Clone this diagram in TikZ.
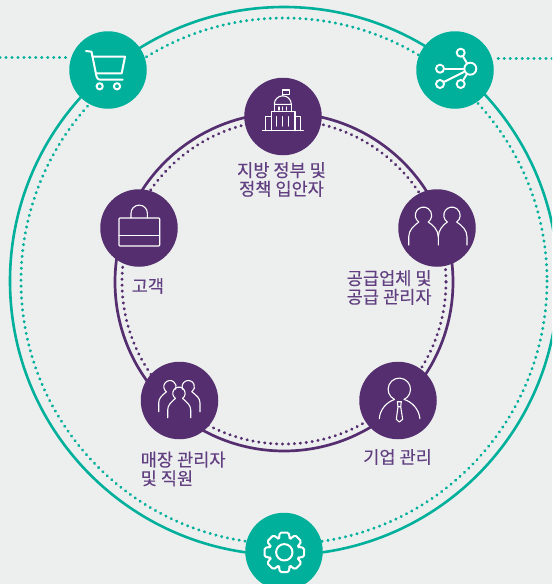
\documentclass[tikz,border=0pt]{standalone}
\usepackage{fontspec}
\newfontfamily\krfont[FakeBold=0.2]{Noto Sans CJK KR}
\definecolor{bgc}{HTML}{EDEFEF}
\definecolor{tealc}{HTML}{00B09B}
\definecolor{purc}{HTML}{552E6F}
\definecolor{labc}{HTML}{613F80}
\tikzset{
  hubteal/.style={circle,fill=tealc,inner sep=0pt,minimum size=77.5pt},
  hubpur/.style={circle,fill=purc,inner sep=0pt,minimum size=77.5pt},
  ringteal/.style={draw=tealc,line width=2.6pt},
  ringpur/.style={draw=purc,line width=2.7pt},
  dotsteal/.style={draw=tealc,line width=3.1pt,line cap=round,dash pattern=on 0.2pt off 5.75pt},
  dotspur/.style={draw=purc,line width=3.1pt,line cap=round,dash pattern=on 0.2pt off 5.75pt},
  iconthick/.style={draw=white,line width=2pt,line cap=round,line join=round},
  iconthin/.style={draw=white,line width=1.1pt,line cap=round,line join=round},
  netdot/.style={circle,draw=white,line width=1.9pt,fill=none,inner sep=0pt,minimum size=#1},
  lab/.style={text=labc,inner sep=0pt,font=\krfont\fontsize{17.6}{18.6}\selectfont},
}
\begin{document}
\begin{tikzpicture}[x=1pt,y=1pt,yscale=-1]
\useasboundingbox (0,0) rectangle (552,584);
\clip (0,0) rectangle (552,584);
\fill[bgc] (0,0) rectangle (552,584);
\coordinate (ctr) at (284,281);
\coordinate (ctrb) at (284,282);
\coordinate (leftend) at (0,57.2);
\coordinate (rightend) at (552,58.7);
% rings
\draw[ringteal] (ctr) circle[radius=274];
\draw[dotsteal] (ctr) circle[radius=263];
\draw[ringpur] (ctrb) circle[radius=169];
\draw[dotspur] (ctrb) circle[radius=162];
% hubs
\node[hubteal] (cart) at (108,70) {};
\node[hubteal] (net) at (455,70) {};
\node[hubteal] (gear) at (284,551.5) {};
\node[hubpur] (gov) at (283,116.5) {};
\node[hubpur] (bag) at (139,228) {};
\node[hubpur] (two) at (437,228) {};
\node[hubpur] (store) at (179.5,400.5) {};
\node[hubpur] (exec) at (398,400.5) {};
% outer dotted connectors
\draw[dotsteal] (leftend) -- (69,57.2);
\draw[dotsteal] (rightend) -- (494,58.7);
% cart
\draw[iconthick] (86,51) -- (91.5,51.7) -- (96,74) .. controls (96.7,78) and (97.5,79.7) .. (101,79.7) -- (122.7,79.7);
\draw[iconthick] (92.7,56.7) -- (125,56.7) -- (121.7,73.3) -- (96,73.3);
\draw[iconthick] (99.7,86.3) circle[radius=3.1];
\draw[iconthick] (117,86.3) circle[radius=3.1];
% network
\node[netdot=12pt] (hub) at (470.3,68.7) {};
\node[netdot=8pt] (n1) at (460.7,52.7) {};
\node[netdot=8pt] (n2) at (440,68.7) {};
\node[netdot=8pt] (n3) at (440,84) {};
\node[netdot=8pt] (n4) at (460.7,84) {};
\draw[iconthick] (hub) -- (n1);
\draw[iconthick] (hub) -- (n2);
\draw[iconthick] (hub) -- (n3);
\draw[iconthick] (hub) -- (n4);
% gear
\begin{scope}[shift={(284.3,552.3)}]
\draw[iconthick] (0,0) circle[radius=8.2];
\draw[iconthick,rounded corners=1.6pt] (-20:15.2) \foreach \a in {0,45,...,315} { -- (\a-20:15.2) -- (\a-13:20.3) -- (\a+13:20.3) -- (\a+20:15.2) } -- cycle;
\end{scope}
% government
\draw[iconthin] (262.3,130.7) -- (303.3,130.7);
\draw[iconthin] (271.3,130.7) -- (271.3,111.7) -- (295,111.7) -- (295,130.7);
\draw[iconthin] (271.3,116.3) -- (265.3,116.3) -- (265.3,130.7);
\draw[iconthin] (295,116.3) -- (300.7,116.3) -- (300.7,130.7);
\foreach \x in {276.7,282.7,288.7} \draw[iconthin] (\x,116.7) -- (\x,126);
\draw[iconthin] (274.3,104.3) arc[start angle=180,end angle=360,radius=8.5] -- cycle;
\draw[iconthin] (274.3,104.3) -- (274.3,111.7);
\draw[iconthin] (291.3,104.3) -- (291.3,111.7);
\foreach \x in {279,282.8,286.6} \draw[iconthin] (\x,107) -- (\x,110);
\draw[iconthin] (282.8,95.8) -- (282.8,90) -- (289.3,90) -- (289.3,94.3) -- (282.8,94.3);
% bag
\draw[iconthin,rounded corners=0.8pt] (119,218) rectangle (159.7,246);
\draw[iconthin] (119,235.7) -- (159.7,235.7);
\draw[iconthin] (131,218) -- (131,213.3) arc[start angle=180,end angle=360,radius=8.2] -- (147.4,218);
% two people
\draw[iconthin] (423.5,215.3) ++(125:8.2) arc[start angle=125,end angle=415,radius=8.2];
\draw[iconthin] (452,215.3) ++(125:8.2) arc[start angle=125,end angle=415,radius=8.2];
\draw[iconthin] (408.7,245) -- (408.7,237) .. controls (408.7,230) and (414,225.5) .. (418.8,222);
\draw[iconthin] (428.2,222) .. controls (433,225) and (438.3,230) .. (438.3,237) -- (438.3,245);
\draw[iconthin] (438.3,237) .. controls (438.3,230) and (443,225) .. (447.3,222);
\draw[iconthin] (456.7,222) .. controls (462,225.5) and (467,230) .. (467,237) -- (467,245);
% store staff
\draw[iconthin] (179,393.3) ++(125:6.2) arc[start angle=125,end angle=415,radius=6.2];
\draw[iconthin] (167.7,417.7) -- (167.7,410) .. controls (167.7,405) and (171,402.5) .. (175.4,398.4);
\draw[iconthin] (182.6,398.4) .. controls (187,402.5) and (190.7,405) .. (190.7,410) -- (190.7,417.7);
\draw[iconthin] (170,386.7) ++(125:6.2) arc[start angle=125,end angle=385,radius=6.2];
\draw[iconthin] (188.3,386.7) ++(155:6.2) arc[start angle=155,end angle=415,radius=6.2];
\draw[iconthin] (158.7,411.7) -- (158.7,403) .. controls (158.7,398) and (162,395.5) .. (166.4,391.8);
\draw[iconthin] (191.9,391.8) .. controls (196.5,395.5) and (200,398) .. (200,403) -- (200,411.7);
% executive
\draw[iconthin] (399.3,389.3) ++(115:11.2) arc[start angle=115,end angle=425,radius=11.2];
\draw[iconthin] (379.3,418.7) .. controls (380,409) and (387,402) .. (394.5,399.5);
\draw[iconthin] (419.9,418.7) .. controls (419,409) and (412,402) .. (404.3,399.5);
\draw[iconthin] (397.3,401.7) -- (401.3,401.7) -- (400.7,406.7) -- (398,406.7) -- cycle;
\draw[iconthin] (398,406.7) -- (396.3,419.3) -- (399.3,422) -- (402.7,419.3) -- (400.7,406.7);
% labels
\node[lab,align=center] (govlab) at (281.5,179.5) {지방 정부 및\\정책 입안자};
\node[lab,anchor=west] (baglab) at (131.5,286) {고객};
\node[lab,anchor=west,align=left] (twolab) at (346.5,287.5) {공급업체 및\\공급 관리자};
\node[lab,anchor=west,align=left] (storelab) at (140.5,469) {매장 관리자\\및 직원};
\node[lab,anchor=west] (execlab) at (363,457) {기업 관리};
\end{tikzpicture}
\end{document}
